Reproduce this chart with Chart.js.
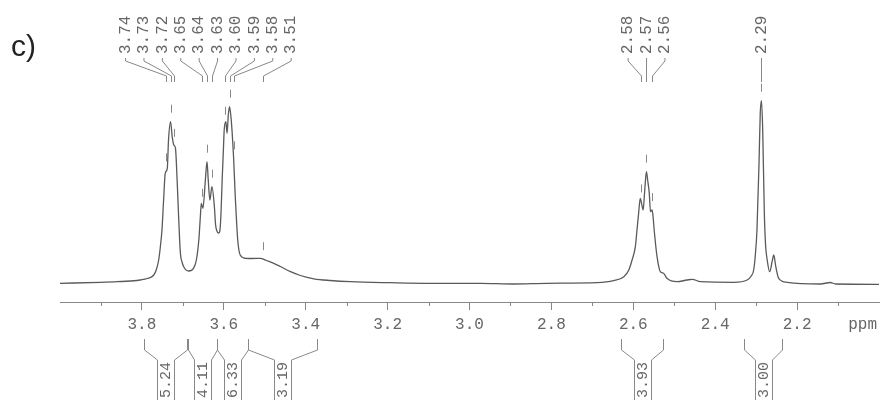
<!DOCTYPE html>
<html>
<head>
<meta charset="utf-8">
<script src="https://cdn.jsdelivr.net/npm/chart.js@4.4.1/dist/chart.umd.min.js"></script>
<style>
  body { margin: 0; background: #fff; }
  canvas { display: block; }
</style>
</head>
<body>
<canvas id="nmr" width="884" height="404"></canvas>
<script>
// spectrum trace: chemical shift (ppm) and height above the axis
const shiftPpm = [
  4.000, 3.901, 3.861, 3.812, 3.804, 3.787, 3.771, 3.765, 3.759, 3.755,
  3.751, 3.747, 3.743, 3.738, 3.735, 3.730, 3.726, 3.722, 3.718, 3.714,
  3.710, 3.706, 3.702, 3.698, 3.686, 3.674, 3.667, 3.661, 3.657, 3.655,
  3.651, 3.645, 3.641, 3.638, 3.634, 3.629, 3.623, 3.620, 3.616, 3.613,
  3.610, 3.607, 3.604, 3.601, 3.599, 3.595, 3.592, 3.589, 3.586, 3.583,
  3.580, 3.576, 3.572, 3.569, 3.566, 3.560, 3.547, 3.530, 3.511, 3.496,
  3.478, 3.462, 3.437, 3.413, 3.380, 3.340, 3.291, 3.193, 3.095, 2.973,
  2.893, 2.811, 2.688, 2.648, 2.623, 2.611, 2.603, 2.595, 2.591, 2.587,
  2.583, 2.580, 2.576, 2.572, 2.568, 2.565, 2.561, 2.558, 2.554, 2.551,
  2.549, 2.542, 2.534, 2.526, 2.518, 2.493, 2.469, 2.456, 2.436, 2.355,
  2.322, 2.312, 2.306, 2.302, 2.298, 2.293, 2.290, 2.287, 2.284, 2.280,
  2.277, 2.273, 2.267, 2.261, 2.257, 2.252, 2.245, 2.224, 2.143, 2.119,
  2.106, 2.000
];
const intensity = [
  18.7, 19.7, 20.3, 21.5, 22, 23.5, 27, 32, 42, 55,
  72, 102, 128.7, 133.7, 162, 180.3, 165.3, 157, 153.7, 122,
  82, 48.7, 40, 35.3, 31, 33.7, 42, 62, 87, 98.7,
  93.7, 122, 140.3, 122, 102, 115.3, 95.3, 77, 70.3, 69,
  70.3, 87, 122, 152, 172, 180.3, 168.7, 187, 195.3, 187,
  172, 143.7, 105.3, 82, 62, 47, 43.7, 43.5, 43.7, 41.5,
  38.7, 35.5, 30.3, 26.5, 23.2, 21.5, 20.3, 19.3, 18.7, 18.7,
  18, 18.7, 19.3, 21.3, 25.3, 32, 42, 55.3, 72, 88.7,
  103.7, 99, 92, 112, 130.3, 122, 108.7, 90.3, 92, 82,
  72, 45.3, 30.3, 28.7, 23.7, 20.3, 22, 22.7, 20.3, 19.7,
  22, 26, 32, 47, 72, 138.7, 188.7, 201.3, 172, 88.7,
  57, 42, 30.3, 40.3, 47, 35.3, 23.7, 19.7, 18, 19.5,
  18, 17.7
];

// picked peaks
const peakLabels = ['3.74', '3.73', '3.72', '3.65', '3.64', '3.63', '3.60', '3.59', '3.58', '3.51',
                    '2.58', '2.57', '2.56', '2.29'];
const peakPpm = [3.740, 3.730, 3.721, 3.653, 3.641, 3.629, 3.596, 3.586, 3.576, 3.505,
                 2.581, 2.568, 2.554, 2.287];
const peakGroups = [[0, 1, 2, 3, 4, 5, 6, 7, 8, 9], [10, 11, 12], [13]];

// integrals
const integralLabels = ['5.24', '4.11', '6.33', '3.19', '3.93', '3.00'];
const integralFrom = [3.796, 3.688, 3.616, 3.541, 2.630, 2.330];
const integralTo = [3.690, 3.616, 3.541, 3.372, 2.527, 2.237];

// axis
const tickValues = [3.9, 3.8, 3.7, 3.6, 3.5, 3.4, 3.3, 3.2, 3.1, 3.0, 2.9, 2.8, 2.7, 2.6, 2.5, 2.4, 2.3, 2.2, 2.1];
const unitLabel = 'ppm';
const unitPos = 2.04;

const isMajor = v => Math.round(v * 10) % 2 === 0;
const isUnit = v => Math.abs(v - unitPos) < 1e-6;

function valueAt(p) {
  for (let i = 0; i < shiftPpm.length - 1; i++) {
    if (shiftPpm[i] >= p && shiftPpm[i + 1] <= p) {
      const t = (shiftPpm[i] - p) / (shiftPpm[i] - shiftPpm[i + 1]);
      return intensity[i] + t * (intensity[i + 1] - intensity[i]);
    }
  }
  return intensity[intensity.length - 1];
}

const annotate = {
  id: 'annotate',
  afterDraw(chart) {
    const { ctx, scales: { x, y } } = chart;
    ctx.save();
    ctx.strokeStyle = '#888';
    ctx.fillStyle = '#666';
    ctx.lineWidth = 1;

    // minor ticks
    ctx.beginPath();
    tickValues.filter(v => !isMajor(v)).forEach(v => {
      const px = Math.round(x.getPixelForValue(v)) + 0.5;
      ctx.moveTo(px, x.top);
      ctx.lineTo(px, x.top + 4);
    });
    ctx.stroke();

    // peak labels, leaders and markers
    ctx.font = '16px "Liberation Mono"';
    peakGroups.forEach(group => {
      const px = group.map(i => x.getPixelForValue(peakPpm[i]));
      const mid = px.reduce((a, b) => a + b, 0) / px.length;
      group.forEach((i, k) => {
        const lx = mid + (k - (group.length - 1) / 2) * 18.4;
        const mx = Math.round(px[k]) + 0.5;
        ctx.beginPath();
        ctx.moveTo(lx, 58);
        ctx.lineTo(lx, 61);
        ctx.lineTo(mx, 76);
        ctx.lineTo(mx, 82);
        const my = y.getPixelForValue(valueAt(peakPpm[i]));
        ctx.moveTo(mx, my - 17);
        ctx.lineTo(mx, my - 9);
        ctx.stroke();

        ctx.save();
        ctx.translate(lx, 54);
        ctx.rotate(-Math.PI / 2);
        ctx.textAlign = 'left';
        ctx.textBaseline = 'middle';
        ctx.fillText(peakLabels[i], 0, 0);
        ctx.restore();
      });
    });

    // integral brackets
    ctx.font = '15px "Liberation Mono"';
    integralLabels.forEach((t, i) => {
      const a = Math.round(x.getPixelForValue(integralFrom[i])) + 0.5;
      const b = Math.round(x.getPixelForValue(integralTo[i])) + 0.5;
      const c = Math.round((a + b) / 2);
      ctx.beginPath();
      ctx.moveTo(a, 339); ctx.lineTo(a, 350); ctx.lineTo(c - 8.5, 360); ctx.lineTo(c - 8.5, 400);
      ctx.moveTo(b, 339); ctx.lineTo(b, 350); ctx.lineTo(c + 8.5, 360); ctx.lineTo(c + 8.5, 400);
      ctx.stroke();

      ctx.save();
      ctx.translate(c, 380);
      ctx.rotate(-Math.PI / 2);
      ctx.textAlign = 'center';
      ctx.textBaseline = 'middle';
      ctx.fillText(t, 0, 0);
      ctx.restore();
    });

    // panel letter
    ctx.fillStyle = '#222';
    ctx.font = '30px "Liberation Sans"';
    ctx.textAlign = 'left';
    ctx.textBaseline = 'alphabetic';
    ctx.fillText('c)', 11, 56);
    ctx.restore();
  }
};

new Chart(document.getElementById('nmr'), {
  type: 'line',
  data: {
    datasets: [{
      data: shiftPpm.map((p, i) => ({ x: p, y: intensity[i] })),
      borderColor: '#5a5a5a',
      borderWidth: 1.3,
      pointRadius: 0,
      cubicInterpolationMode: 'monotone',
      fill: false
    }]
  },
  options: {
    responsive: false,
    animation: false,
    devicePixelRatio: 1,
    layout: { padding: { top: 82, left: 60, right: 5, bottom: 0 } },
    plugins: { legend: { display: false }, tooltip: { enabled: false } },
    scales: {
      x: {
        type: 'linear',
        reverse: true,
        min: 2.0,
        max: 4.0,
        afterBuildTicks: s => { s.ticks = tickValues.concat([unitPos]).map(v => ({ value: v })); },
        afterFit: s => { s.height = 102; },
        border: { color: '#888' },
        grid: {
          drawOnChartArea: false,
          tickLength: 8,
          tickColor: c => (c.tick && isMajor(c.tick.value) && !isUnit(c.tick.value)) ? '#888' : 'rgba(0,0,0,0)'
        },
        ticks: {
          autoSkip: false,
          maxRotation: 0,
          padding: 5,
          color: '#666',
          font: { family: 'Liberation Mono', size: 16 },
          callback: v => isUnit(v) ? unitLabel : (isMajor(v) ? v.toFixed(1) : '')
        }
      },
      y: { display: false, min: 0, max: 220 }
    }
  },
  plugins: [annotate]
});
</script>
</body>
</html>
